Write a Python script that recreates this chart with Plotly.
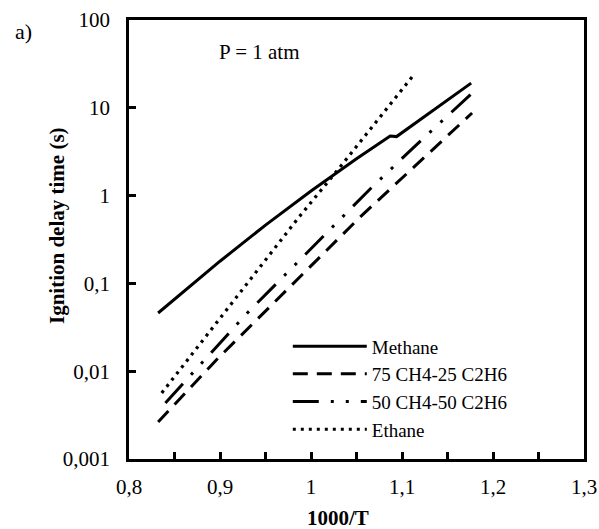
import plotly.graph_objects as go

# Data (x = 1000/T, y = ignition delay time in s)
methane_x = [0.832, 0.900, 0.950, 1.000, 1.050, 1.087, 1.094, 1.176]
methane_y = [0.046, 0.179, 0.461, 1.13, 2.63, 4.78, 4.70, 19.1]

mix75_x = [0.832, 0.898, 1.054, 1.177]
mix75_y = [0.00264, 0.0141, 0.570, 8.73]

mix50_x = [0.840, 0.930, 1.065, 1.112, 1.177]
mix50_y = [0.00435, 0.046, 1.19, 3.48, 14.7]

ethane_x = [0.836, 0.986, 1.032, 1.111]
ethane_y = [0.00565, 0.556, 2.12, 22.4]

series_names = ["Methane", "75 CH4-25 C2H6", "50 CH4-50 C2H6", "Ethane"]

x_tickvals = [0.8, 0.9, 1.0, 1.1, 1.2, 1.3]
x_ticktext = ["0,8", "0,9", "1", "1,1", "1,2", "1,3"]
y_tickvals = [0.001, 0.01, 0.1, 1, 10, 100]
y_ticktext = ["0,001", "0,01", "0,1", "1", "10", "100"]

FONT = "Liberation Serif"
BLACK = "#000000"

fig = go.Figure()
fig.add_trace(go.Scatter(x=methane_x, y=methane_y, mode="lines", name=series_names[0],
                         line=dict(color=BLACK, width=3)))
fig.add_trace(go.Scatter(x=mix75_x, y=mix75_y, mode="lines", name=series_names[1],
                         line=dict(color=BLACK, width=3, dash="15px,9px")))
fig.add_trace(go.Scatter(x=mix50_x, y=mix50_y, mode="lines", name=series_names[2],
                         line=dict(color=BLACK, width=3, dash="26px,12px,3px,12px,3px,12px")))
fig.add_trace(go.Scatter(x=ethane_x, y=ethane_y, mode="lines", name=series_names[3],
                         line=dict(color=BLACK, width=3.2, dash="3px,5px")))

axis_common = dict(
    showline=True, linecolor=BLACK, linewidth=2.5, mirror=True,
    ticks="inside", tickcolor=BLACK, tickwidth=2.5, ticklen=7,
    showgrid=False, zeroline=False, automargin=False,
    tickfont=dict(family=FONT, size=21, color=BLACK),
)

fig.update_xaxes(range=[0.8, 1.3], tickvals=x_tickvals, ticktext=x_ticktext,
                 minor=dict(tickvals=[0.85, 0.95, 1.05, 1.15, 1.25], ticks="inside",
                            ticklen=7, tickwidth=2.5, tickcolor=BLACK),
                 ticklabelstandoff=7, **axis_common)
fig.update_yaxes(type="log", range=[-3, 2], tickvals=y_tickvals, ticktext=y_ticktext,
                 ticklabelstandoff=12, **axis_common)

fig.update_layout(
    template="none",
    width=599, height=529,
    margin=dict(l=129, r=15, t=20, b=70),
    paper_bgcolor="white", plot_bgcolor="white",
    font=dict(family=FONT, size=20, color=BLACK),
    showlegend=True,
    legend=dict(x=0.349, y=0.30, xanchor="left", yanchor="top",
                bgcolor="rgba(0,0,0,0)", borderwidth=0,
                font=dict(family=FONT, size=19, color=BLACK),
                itemwidth=74, tracegroupgap=0),
    annotations=[
        dict(text="a)", x=(13 - 129) / 455, y=(459 - 32) / 439, xref="paper", yref="paper",
             showarrow=False, font=dict(family=FONT, size=22, color=BLACK),
             xanchor="left", yanchor="middle"),
        dict(text="P = 1 atm", x=(217 - 129) / 455, y=(459 - 52) / 439, xref="paper", yref="paper",
             showarrow=False, font=dict(family=FONT, size=21, color=BLACK),
             xanchor="left", yanchor="middle"),
        dict(text="<b>1000/T</b>", x=(338 - 129) / 455, y=(459 - 518) / 439, xref="paper", yref="paper",
             showarrow=False, font=dict(family=FONT, size=21, color=BLACK),
             xanchor="center", yanchor="middle"),
        dict(text="<b>Ignition delay time (s)</b>", x=(57 - 129) / 455, y=(459 - 226) / 439,
             xref="paper", yref="paper", showarrow=False, textangle=-90,
             font=dict(family=FONT, size=21, color=BLACK), xanchor="center", yanchor="middle"),
    ],
)

# remove the page's default body margin so the figure sits at the window's top-left corner
fig.write_html("out.html", config={"displayModeBar": False},
               post_script="document.body.style.margin='0';document.body.style.overflow='hidden';")
